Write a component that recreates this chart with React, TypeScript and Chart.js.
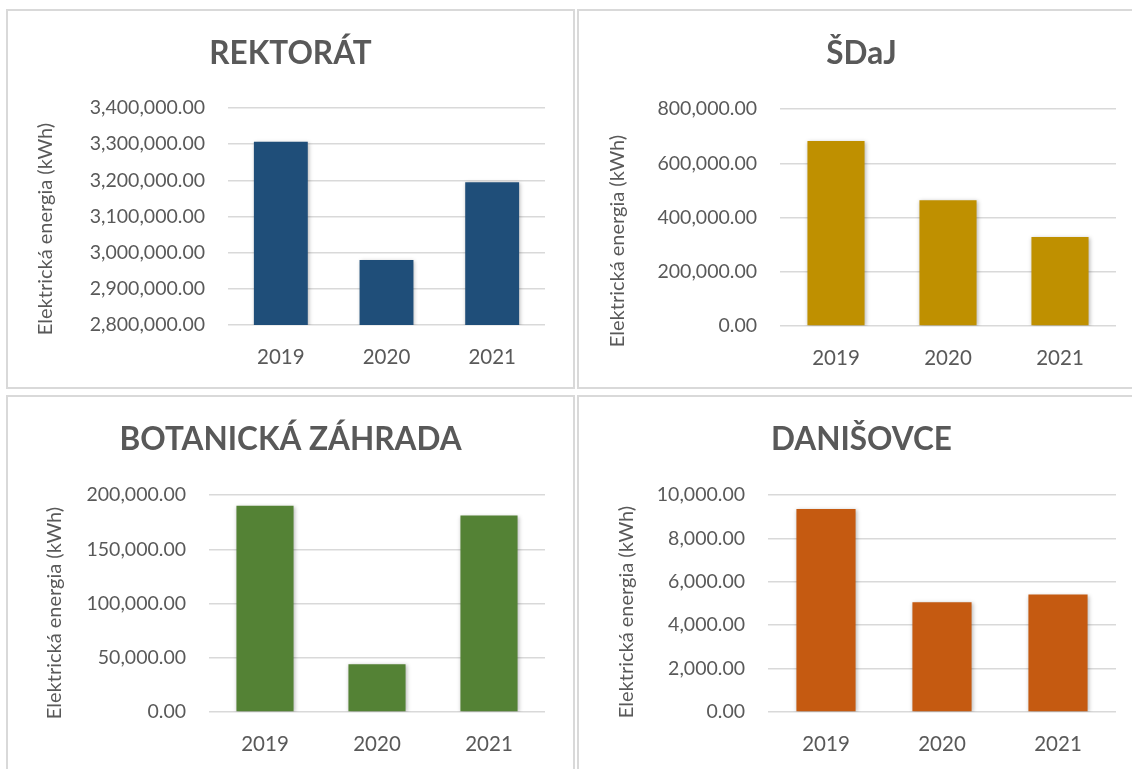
import React, { useEffect, useRef } from 'react';
import { Chart, registerables } from 'chart.js';

Chart.register(...registerables);

// ---- Data ----
const years = ['2019', '2020', '2021'];

const rektoratValues = [3307000, 2980000, 3195000];
const sdajValues = [682000, 464000, 328000];
const botanickaValues = [190000, 44000, 181000];
const danisovceValues = [9350, 5060, 5410];

const rektoratAxis = [2800000, 3400000, 100000]; // min, max, step
const sdajAxis = [0, 800000, 200000];
const botanickaAxis = [0, 200000, 50000];
const danisovceAxis = [0, 10000, 2000];

const titles = ['REKTORÁT', 'ŠDaJ', 'BOTANICKÁ ZÁHRADA', 'DANIŠOVCE'];
const yAxisTitle = 'Elektrická energia (kWh)';

// ---- Styling / layout ----
const FONT = 'Lato, "Open Sans", sans-serif';
const TEXT = '#595959';
const CANVAS_W = 565;
const CANVAS_H = 376;

type Panel = {
  title: string;
  values: number[];
  axis: number[];
  color: string;
  left: number;
  top: number;
  area: { left: number; right: number; top: number; bottom: number };
  ytitle: { x: number; y: number };
};

const panels: Panel[] = [
  {
    title: titles[0], values: rektoratValues, axis: rektoratAxis, color: '#1f4e79',
    left: 6, top: 9,
    area: { left: 220, right: 537, top: 97, bottom: 314 },
    ytitle: { x: 38, y: 218 },
  },
  {
    title: titles[1], values: sdajValues, axis: sdajAxis, color: '#bf9000',
    left: 577, top: 9,
    area: { left: 201, right: 537, top: 98, bottom: 315 },
    ytitle: { x: 39, y: 230 },
  },
  {
    title: titles[2], values: botanickaValues, axis: botanickaAxis, color: '#548235',
    left: 6, top: 395,
    area: { left: 201, right: 537, top: 98, bottom: 315 },
    ytitle: { x: 47, y: 216 },
  },
  {
    title: titles[3], values: danisovceValues, axis: danisovceAxis, color: '#c55a11',
    left: 577, top: 395,
    area: { left: 189, right: 537, top: 98, bottom: 315 },
    ytitle: { x: 48, y: 215 },
  },
];

const fmt = (v: number) =>
  v.toLocaleString('en-US', { minimumFractionDigits: 2, maximumFractionDigits: 2 });

const sideTitlePlugin = {
  id: 'sideTitle',
  afterDraw(chart: any, _args: any, opts: any) {
    const { ctx } = chart;
    ctx.save();
    ctx.translate(opts.x, opts.y);
    ctx.rotate(-Math.PI / 2);
    ctx.font = `${opts.size}px ${FONT}`;
    ctx.fillStyle = opts.color;
    ctx.textAlign = 'center';
    ctx.textBaseline = 'middle';
    ctx.fillText(opts.text, 0, 0);
    ctx.restore();
  },
};

const shadowPlugin = {
  id: 'barShadow',
  beforeDatasetsDraw(chart: any) {
    const { ctx } = chart;
    ctx.save();
    ctx.shadowColor = 'rgba(0,0,0,0.28)';
    ctx.shadowBlur = 4;
    ctx.shadowOffsetX = 1;
    ctx.shadowOffsetY = 1;
  },
  afterDatasetsDraw(chart: any) {
    chart.ctx.restore();
  },
};

function BarPanel({ p }: { p: Panel }) {
  const ref = useRef<HTMLCanvasElement | null>(null);
  useEffect(() => {
    if (!ref.current) return;
    const titleSize = 31.5;
    const titleLine = titleSize * 1.2;
    const titlePadTop = 24;
    const titlePadBottom = p.area.top - titlePadTop - titleLine;
    const chart = new Chart(ref.current, {
      type: 'bar',
      data: {
        labels: years,
        datasets: [
          {
            data: p.values,
            backgroundColor: p.color,
            borderWidth: 0,
            categoryPercentage: 0.51,
            barPercentage: 1,
          },
        ],
      },
      options: {
        responsive: false,
        animation: false,
        layout: { padding: 0 },
        plugins: {
          legend: { display: false },
          tooltip: { enabled: false },
          title: {
            display: true,
            text: p.title,
            color: TEXT,
            font: { family: FONT, size: titleSize, weight: 'bold' },
            padding: { top: titlePadTop, bottom: titlePadBottom },
          },
          sideTitle: { text: yAxisTitle, x: p.ytitle.x, y: p.ytitle.y, size: 20, color: TEXT },
        } as any,
        scales: {
          x: {
            grid: { display: false, drawTicks: false },
            border: { display: false },
            ticks: { color: TEXT, font: { family: FONT, size: 20.5 }, padding: 20 },
            afterFit: (s: any) => {
              s.height = CANVAS_H - p.area.bottom;
            },
          },
          y: {
            min: p.axis[0],
            max: p.axis[1],
            grid: { color: '#d9d9d9', lineWidth: 1.5, drawTicks: false },
            border: { display: false },
            ticks: {
              stepSize: p.axis[2],
              color: TEXT,
              font: { family: FONT, size: 19.5 },
              padding: 23,
              callback: (v: any) => fmt(Number(v)),
            },
            afterFit: (s: any) => {
              s.width = p.area.left;
            },
          },
          yRightSpace: {
            position: 'right',
            display: true,
            grid: { display: false, drawTicks: false },
            border: { display: false },
            ticks: { display: false },
            afterFit: (s: any) => {
              s.width = CANVAS_W - p.area.right;
            },
          },
        } as any,
      },
      plugins: [shadowPlugin, sideTitlePlugin],
    });
    return () => chart.destroy();
  }, [p]);

  return (
    <div
      style={{
        position: 'absolute',
        left: p.left,
        top: p.top,
        width: CANVAS_W + 4,
        height: CANVAS_H + 4,
        boxSizing: 'border-box',
        border: '2px solid #d9d9d9',
        background: '#ffffff',
      }}
    >
      <canvas ref={ref} width={CANVAS_W} height={CANVAS_H} style={{ display: 'block' }} />
    </div>
  );
}

export default function App() {
  return (
    <div
      style={{
        position: 'fixed',
        left: 0,
        top: 0,
        width: 1132,
        height: 769,
        overflow: 'hidden',
        background: '#ffffff',
      }}
    >
      {panels.map((p, i) => (
        <BarPanel key={i} p={p} />
      ))}
    </div>
  );
}
